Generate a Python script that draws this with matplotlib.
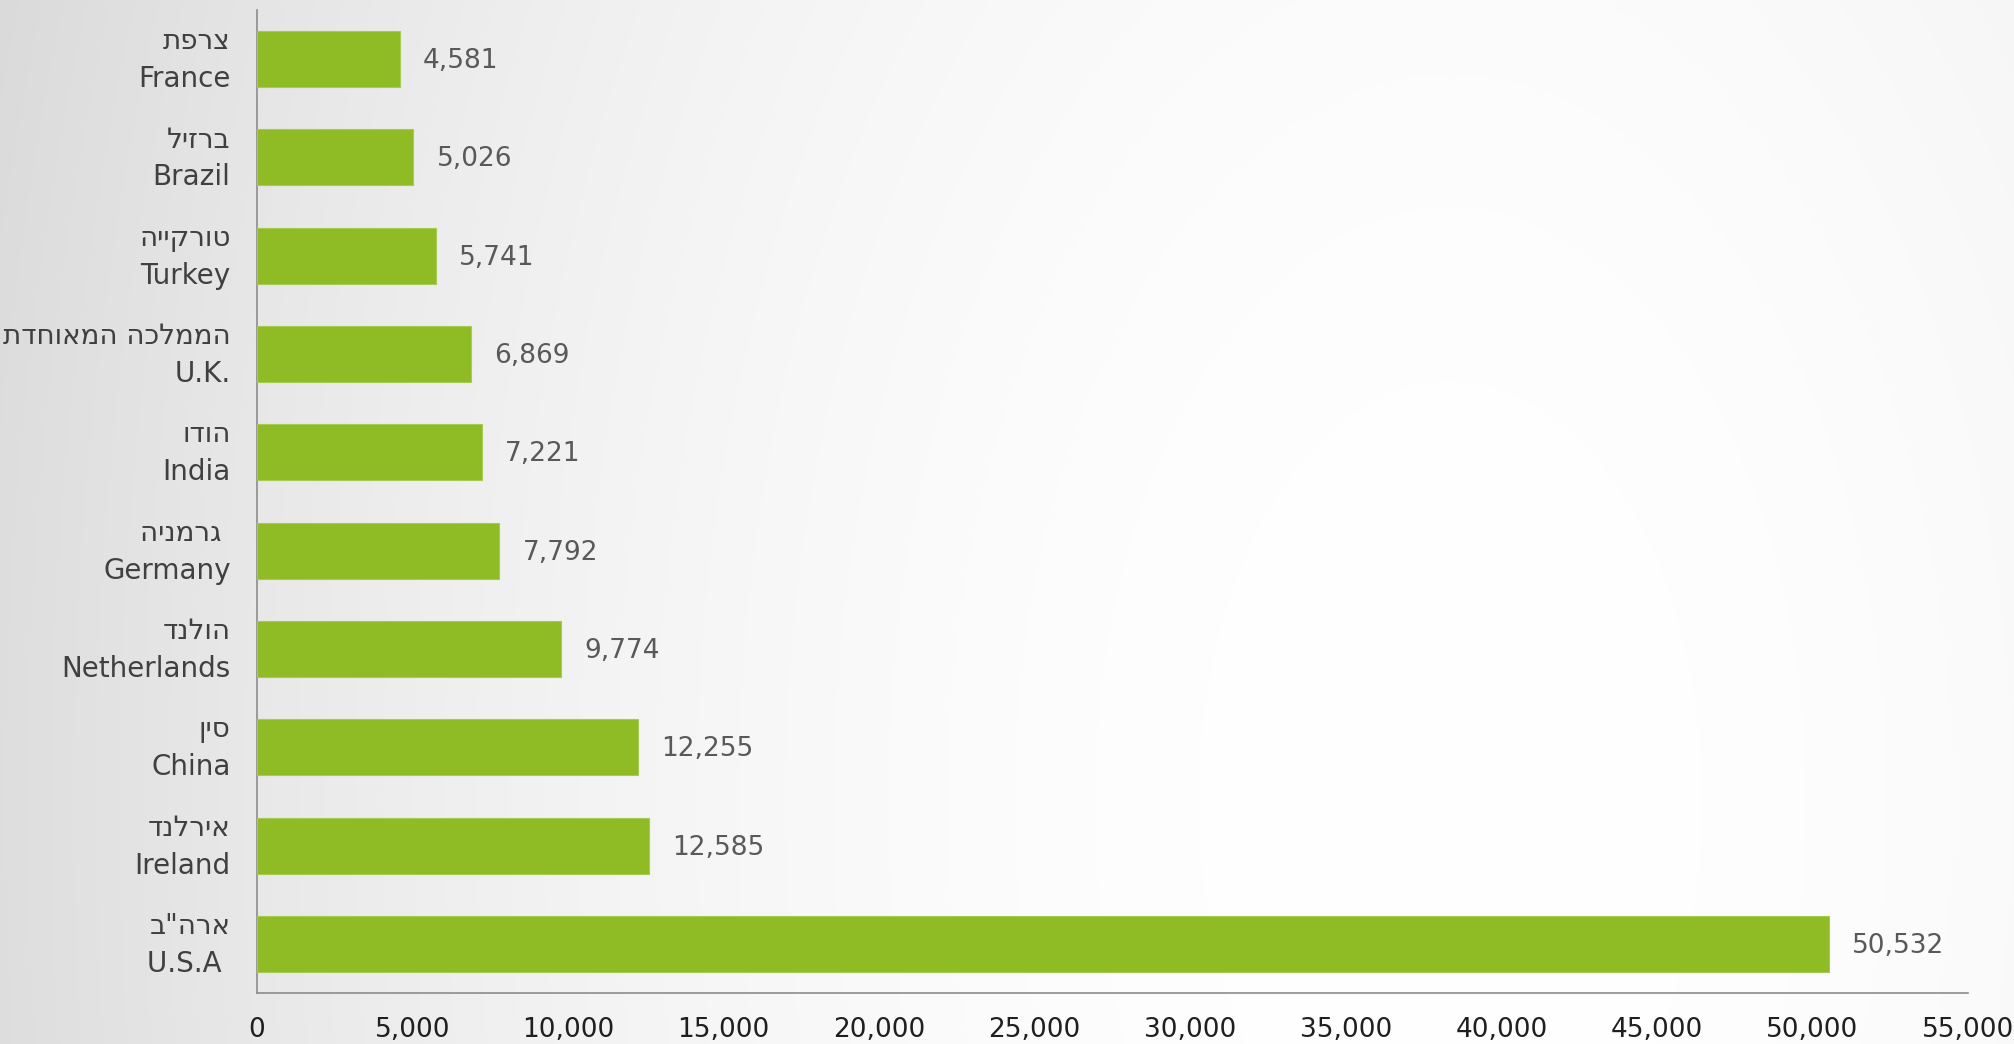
import numpy as np
import matplotlib
matplotlib.use("Agg")
import matplotlib.pyplot as plt
import matplotlib.transforms as mtransforms

# ---- data ----
countries_he = ["צרפת", "ברזיל", "טורקייה", "הממלכה המאוחדת", "הודו", " גרמניה", "הולנד", "סין", "אירלנד", "ארה\"ב"]
countries_en = ["France", "Brazil", "Turkey", "U.K.", "India", "Germany", "Netherlands", "China", "Ireland", "U.S.A "]
values = [4581, 5026, 5741, 6869, 7221, 7792, 9774, 12255, 12585, 50532]
xticks = [0, 5000, 10000, 15000, 20000, 25000, 30000, 35000, 40000, 45000, 50000, 55000]

W, H = 2015, 1044
fig = plt.figure(figsize=(W / 100, H / 100), dpi=100)

# background radial gradient
bg = fig.add_axes([0, 0, 1, 1])
yy, xx = np.mgrid[0:H, 0:W]
dx = xx - 1450.0
dy = (yy - 800.0) * 0.6
r = np.sqrt(dx ** 2 + dy ** 2) / 1000.0
b = 1 - 0.062 * r ** 2
b = np.clip(b, 0, 1)
img = np.dstack([b, b, b])
bg.imshow(img, extent=[0, W, H, 0], aspect="auto", interpolation="bilinear")
bg.set_axis_off()

ax = fig.add_axes([257 / W, 1 - 993 / H, (1968 - 257) / W, (993 - 10) / H])
ax.patch.set_alpha(0)

y = np.arange(len(values))
ax.barh(y, values, height=0.57, color="#8FBB24", edgecolor="#A6CB52", linewidth=0.8, zorder=3)
ax.set_ylim(len(values) - 0.5, -0.5)
ax.set_xlim(0, 55000)

for yi, v in zip(y, values):
    ax.text(v + 750, yi + 0.02, f"{v:,}", va="center", ha="left", fontsize=19,
            color="#595959", family="DejaVu Sans")

labels = [he[::-1] + "\n" + en for he, en in zip(countries_he, countries_en)]
ax.set_yticks(y)
ax.set_yticklabels(labels, fontsize=20, color="#404040", linespacing=1.45,
                   family="DejaVu Sans", ha="right")
ax.tick_params(axis="y", length=0, pad=19)
offset = mtransforms.ScaledTranslation(0, 5 / 72, fig.dpi_scale_trans)
for lab in ax.get_yticklabels():
    lab.set_transform(lab.get_transform() + offset)

ax.set_xticks(xticks)
ax.set_xticklabels([f"{t:,}" for t in xticks], fontsize=19, color="#1f1f1f", family="DejaVu Sans")
ax.tick_params(axis="x", length=0, pad=17)

for s in ["top", "right"]:
    ax.spines[s].set_visible(False)
for s in ["left", "bottom"]:
    ax.spines[s].set_color("#8c8c8c")
    ax.spines[s].set_linewidth(1.2)

fig.savefig("out.png", dpi=100)
